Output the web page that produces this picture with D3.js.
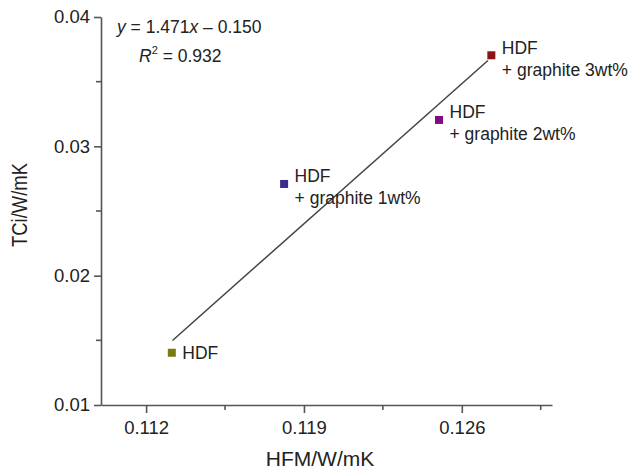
<!DOCTYPE html>
<html lang="en">
<head>
  <meta charset="UTF-8">
  <title>TCi vs HFM</title>
  <script src="https://d3js.org/d3.v7.min.js"></script>
  <style>
    body {font-family: "Liberation Sans", Arial, sans-serif; margin: 0; padding: 0; background: #fff;}
    svg {display: block;}
    .axis text {font-size: 18.5px; fill: #222; font-family: "Liberation Sans", Arial, sans-serif;}
    .axis path, .axis line {stroke: #555; stroke-width: 1.6;}
    .lbl {font-size: 17.5px; fill: #222;}
  </style>
</head>
<body>
  <div id="chart"></div>
  <script>
    // samples
    const names = ["HDF", "HDF+1", "HDF+2", "HDF+3"];
    const labelLines = [["HDF"], ["HDF", "+ graphite 1wt%"], ["HDF", "+ graphite 2wt%"], ["HDF", "+ graphite 3wt%"]];
    const hfm = [0.11314, 0.11812, 0.12499, 0.12731];
    const tci = [0.01404, 0.02709, 0.03204, 0.03704];
    const colors = ["#7b7a12", "#3b2d8c", "#820a82", "#8a1414"];

    // fitted line (as drawn)
    const fitX = [0.11317, 0.12716];
    const fitY = [0.01499, 0.03664];

    const xTicks = [0.112, 0.119, 0.126];
    const xMinor = [0.1155, 0.1225, 0.1295];
    const yTicks = [0.01, 0.02, 0.03, 0.04];
    const yMinor = [0.015, 0.025, 0.035];

    const width = 628, height = 471;
    const margin = {top: 17, right: 76, bottom: 66, left: 101};

    const svg = d3.select("#chart").append("svg")
      .attr("width", width).attr("height", height);

    const x = d3.scaleLinear().domain([0.110, 0.130]).range([margin.left, width - margin.right]);
    const y = d3.scaleLinear().domain([0.01, 0.04]).range([height - margin.bottom, margin.top]);

    // axes
    const xAxisG = svg.append("g").attr("class", "axis")
      .attr("transform", `translate(0,${height - margin.bottom})`)
      .call(d3.axisBottom(x).tickValues(xTicks).tickFormat(d3.format(".3f")).tickSize(8).tickSizeOuter(0).tickPadding(8));
    xAxisG.selectAll(".minor").data(xMinor).join("line")
      .attr("class", "minor")
      .attr("x1", d => x(d)).attr("x2", d => x(d))
      .attr("y1", 0).attr("y2", 5);

    const yAxisG = svg.append("g").attr("class", "axis")
      .attr("transform", `translate(${margin.left},0)`)
      .call(d3.axisLeft(y).tickValues(yTicks).tickFormat(d3.format(".2f")).tickSize(7).tickSizeOuter(0).tickPadding(4));
    yAxisG.selectAll(".minor").data(yMinor).join("line")
      .attr("class", "minor")
      .attr("x1", 0).attr("x2", -5)
      .attr("y1", d => y(d)).attr("y2", d => y(d));

    // axis titles
    svg.append("text")
      .attr("x", 320).attr("y", 466)
      .attr("text-anchor", "middle")
      .style("font-size", "21px").style("fill", "#222")
      .text("HFM/W/mK");
    svg.append("text")
      .attr("transform", `translate(27,205) rotate(-90)`)
      .attr("text-anchor", "middle")
      .attr("textLength", 84).attr("lengthAdjust", "spacingAndGlyphs")
      .style("font-size", "22px").style("fill", "#222")
      .text("TCi/W/mK");

    // fit line
    svg.append("line")
      .attr("x1", x(fitX[0])).attr("y1", y(fitY[0]))
      .attr("x2", x(fitX[1])).attr("y2", y(fitY[1]))
      .attr("stroke", "#444").attr("stroke-width", 1.5);

    // points
    const pts = names.map((n, i) => ({name: n, x: hfm[i], y: tci[i], color: colors[i], lines: labelLines[i]}));
    const ms = 8;
    svg.selectAll(".pt").data(pts).join("rect")
      .attr("class", "pt")
      .attr("x", d => x(d.x) - ms / 2).attr("y", d => y(d.y) - ms / 2)
      .attr("width", ms).attr("height", ms)
      .attr("fill", d => d.color);

    // point labels
    svg.selectAll(".plabel").data(pts).join("text")
      .attr("class", "lbl plabel")
      .attr("x", d => x(d.x) + 10.5)
      .attr("y", d => d.lines.length === 1 ? y(d.y) + 6.5 : y(d.y) - 1.5)
      .each(function(d) {
        const t = d3.select(this);
        d.lines.forEach((s, k) => {
          t.append("tspan").attr("x", x(d.x) + 10.5).attr("dy", k === 0 ? 0 : 22).text(s);
        });
      });

    // equation
    const eq = svg.append("text").attr("class", "lbl").attr("x", 117).attr("y", 33);
    eq.append("tspan").style("font-style", "italic").text("y");
    eq.append("tspan").text(" = 1.471");
    eq.append("tspan").style("font-style", "italic").text("x");
    eq.append("tspan").text(" – 0.150");
    const r2 = svg.append("text").attr("class", "lbl").attr("x", 139).attr("y", 62);
    r2.append("tspan").style("font-style", "italic").text("R");
    r2.append("tspan").attr("dy", -8).style("font-size", "11px").text("2");
    r2.append("tspan").attr("dy", 8).text(" = 0.932");
  </script>
</body>
</html>
